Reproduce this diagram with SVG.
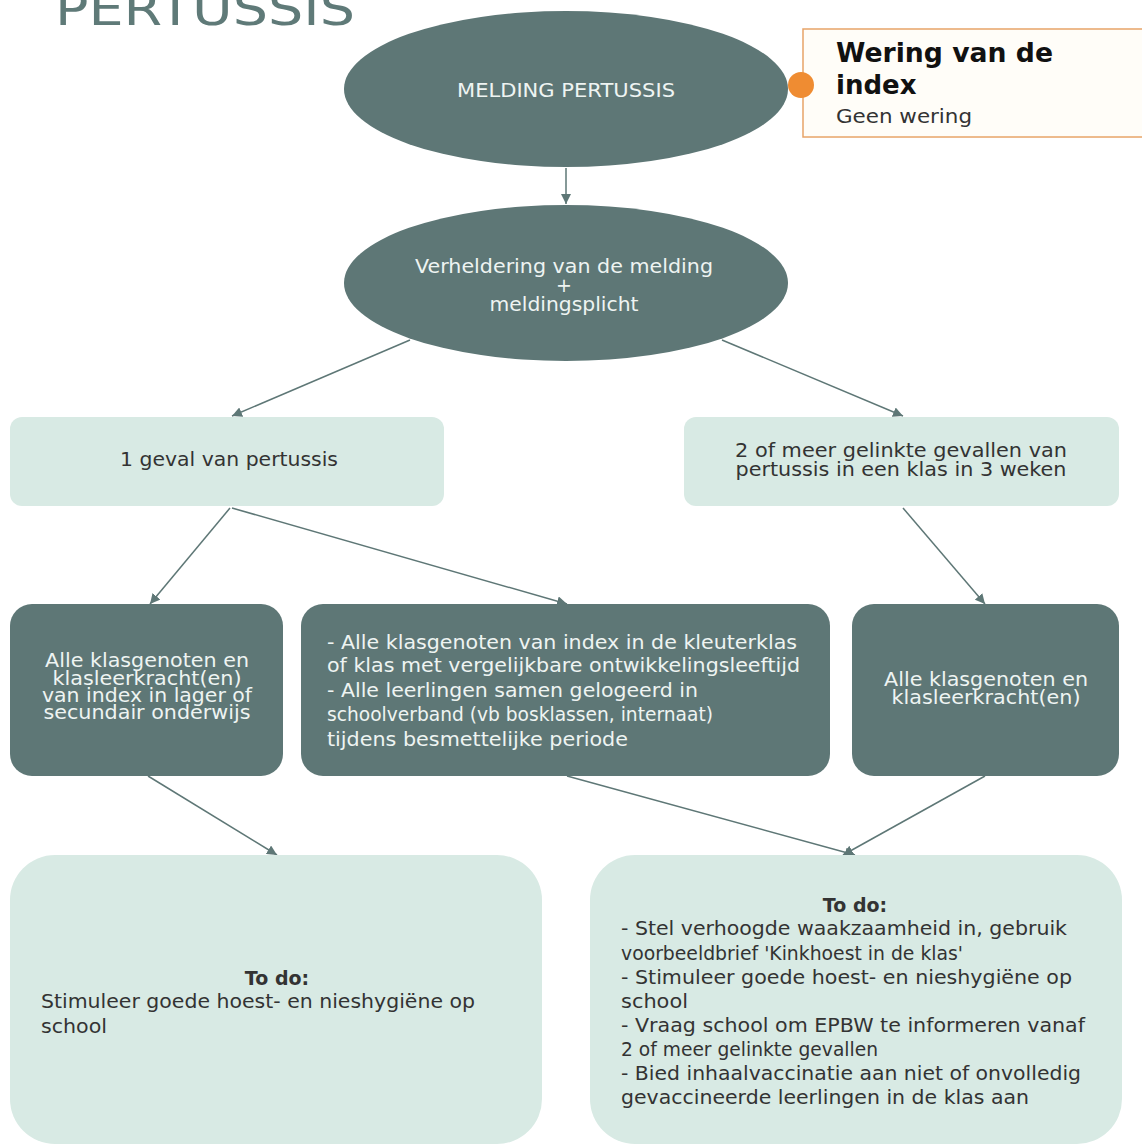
<svg xmlns="http://www.w3.org/2000/svg" width="1142" height="1144" viewBox="0 0 1142 1144">
<defs>
<style>
.dark{fill:#5e7776;}
.light{fill:#d8eae4;}
.conn{stroke:#5e7776;stroke-width:1.5;fill:none;marker-end:url(#ah);}
.wt{font-family:"DejaVu Sans",Verdana,sans-serif;fill:#eef4f2;font-size:19px;}
.dt{font-family:"DejaVu Sans",Verdana,sans-serif;fill:#333;font-size:19px;}
.vt{font-family:"DejaVu Sans",Verdana,sans-serif;fill:#333;font-size:20px;}
.vb{font-family:"DejaVu Sans",Verdana,sans-serif;fill:#333;font-size:19px;font-weight:bold;}
.el{font-family:"DejaVu Sans",Verdana,sans-serif;fill:#eef4f2;font-size:19px;}
</style>
<marker id="ah" viewBox="0 0 10 10" refX="10" refY="5" markerWidth="10" markerHeight="10" markerUnits="userSpaceOnUse" orient="auto">
<path d="M0,0 L10,5 L0,10 Z" fill="#5e7776"/>
</marker>
</defs>
<rect width="1142" height="1144" fill="#ffffff"/>
<text x="55" y="25" font-family="DejaVu Sans,sans-serif" font-size="46" fill="#5f7a78" textLength="300" lengthAdjust="spacingAndGlyphs">PERTUSSIS</text>

<g id="connectors">
<line class="conn" x1="566" y1="168" x2="566" y2="204"/>
<line class="conn" x1="410" y1="340" x2="232" y2="416"/>
<line class="conn" x1="722" y1="340" x2="903" y2="416"/>
<line class="conn" x1="230" y1="508" x2="150" y2="604"/>
<line class="conn" x1="232" y1="508" x2="567" y2="604"/>
<line class="conn" x1="903" y1="508" x2="985" y2="604"/>
<line class="conn" x1="148" y1="776" x2="277" y2="855"/>
<line class="conn" x1="567" y1="776" x2="855" y2="855"/>
<line class="conn" x1="985" y1="776" x2="843" y2="855"/>
</g>

<g id="melding">
<ellipse class="dark" cx="566" cy="89" rx="222" ry="78"/>
<text class="el" x="566" y="97" text-anchor="middle" font-size="18" textLength="218" lengthAdjust="spacingAndGlyphs">MELDING PERTUSSIS</text>
</g>

<g id="wering">
<rect x="803" y="29" width="345" height="108" fill="#fffdf8" stroke="#e8a468" stroke-width="1.5"/>
<circle cx="801" cy="85" r="13" fill="#ef8c32"/>
<text x="836" y="62" font-family="DejaVu Sans,sans-serif" font-size="26" font-weight="bold" fill="#111" textLength="217" lengthAdjust="spacingAndGlyphs">Wering van de</text>
<text x="836" y="94" font-family="DejaVu Sans,sans-serif" font-size="26" font-weight="bold" fill="#111">index</text>
<text x="836" y="123" font-family="DejaVu Sans,sans-serif" font-size="20" fill="#333" textLength="136" lengthAdjust="spacingAndGlyphs">Geen wering</text>
</g>

<g id="verheldering">
<ellipse class="dark" cx="566" cy="283" rx="222" ry="78"/>
<text class="el" x="564" y="273" text-anchor="middle" textLength="298" lengthAdjust="spacingAndGlyphs">Verheldering van de melding</text>
<text class="el" x="564" y="292" text-anchor="middle">+</text>
<text class="el" x="564" y="311" text-anchor="middle" textLength="149" lengthAdjust="spacingAndGlyphs">meldingsplicht</text>
</g>

<g id="geval1">
<rect class="light" x="10" y="417" width="434" height="89" rx="12"/>
<text class="dt" x="229" y="466" text-anchor="middle" textLength="218" lengthAdjust="spacingAndGlyphs">1 geval van pertussis</text>
</g>

<g id="geval2">
<rect class="light" x="684" y="417" width="435" height="89" rx="12"/>
<text class="dt" x="901" y="457" text-anchor="middle" textLength="332" lengthAdjust="spacingAndGlyphs">2 of meer gelinkte gevallen  van</text>
<text class="dt" x="901" y="476" text-anchor="middle" textLength="331" lengthAdjust="spacingAndGlyphs">pertussis in een klas in 3 weken</text>
</g>

<g id="klas-lager">
<rect class="dark" x="10" y="604" width="273" height="172" rx="22"/>
<text class="wt" x="147" y="667" text-anchor="middle" textLength="204" lengthAdjust="spacingAndGlyphs">Alle klasgenoten en</text>
<text class="wt" x="147" y="685" text-anchor="middle" textLength="189" lengthAdjust="spacingAndGlyphs">klasleerkracht(en)</text>
<text class="wt" x="147" y="702" text-anchor="middle" textLength="210" lengthAdjust="spacingAndGlyphs">van index in lager of</text>
<text class="wt" x="147" y="719" text-anchor="middle" textLength="207" lengthAdjust="spacingAndGlyphs">secundair onderwijs</text>
</g>

<g id="kleuter">
<rect class="dark" x="301" y="604" width="529" height="172" rx="22"/>
<text class="wt" x="327" y="649" textLength="470" lengthAdjust="spacingAndGlyphs">- Alle klasgenoten van index in de kleuterklas</text>
<text class="wt" x="327" y="672" textLength="473" lengthAdjust="spacingAndGlyphs">of klas met vergelijkbare ontwikkelingsleeftijd</text>
<text class="wt" x="327" y="697" textLength="371" lengthAdjust="spacingAndGlyphs">- Alle leerlingen samen gelogeerd in</text>
<text class="wt" x="327" y="721" textLength="386" lengthAdjust="spacingAndGlyphs">schoolverband (vb bosklassen, internaat)</text>
<text class="wt" x="327" y="746" textLength="301" lengthAdjust="spacingAndGlyphs">tijdens besmettelijke periode</text>
</g>

<g id="klas-alle">
<rect class="dark" x="852" y="604" width="267" height="172" rx="22"/>
<text class="wt" x="986" y="686" text-anchor="middle" textLength="204" lengthAdjust="spacingAndGlyphs">Alle klasgenoten en</text>
<text class="wt" x="986" y="704" text-anchor="middle" textLength="189" lengthAdjust="spacingAndGlyphs">klasleerkracht(en)</text>
</g>

<g id="todo1">
<rect class="light" x="10" y="855" width="532" height="289" rx="45"/>
<text class="vb" x="277" y="985" text-anchor="middle">To do:</text>
<text class="vt" x="41" y="1008" textLength="434" lengthAdjust="spacingAndGlyphs">Stimuleer goede hoest- en nieshygiëne op</text>
<text class="vt" x="41" y="1033" textLength="66" lengthAdjust="spacingAndGlyphs">school</text>
</g>

<g id="todo2">
<rect class="light" x="590" y="855" width="532" height="289" rx="45"/>
<text class="vb" x="855" y="912" text-anchor="middle">To do:</text>
<text class="vt" x="621" y="935" textLength="446" lengthAdjust="spacingAndGlyphs">-  Stel verhoogde waakzaamheid in, gebruik</text>
<text class="vt" x="621" y="960" textLength="342" lengthAdjust="spacingAndGlyphs">voorbeeldbrief 'Kinkhoest in de klas'</text>
<text class="vt" x="621" y="984" textLength="451" lengthAdjust="spacingAndGlyphs">-  Stimuleer goede hoest- en nieshygiëne op</text>
<text class="vt" x="621" y="1008" textLength="67" lengthAdjust="spacingAndGlyphs">school</text>
<text class="vt" x="621" y="1032" textLength="464" lengthAdjust="spacingAndGlyphs">-  Vraag school om EPBW te informeren vanaf</text>
<text class="vt" x="621" y="1056" textLength="257" lengthAdjust="spacingAndGlyphs">2 of meer gelinkte gevallen</text>
<text class="vt" x="621" y="1080" textLength="460" lengthAdjust="spacingAndGlyphs">-  Bied inhaalvaccinatie aan niet of onvolledig</text>
<text class="vt" x="621" y="1104" textLength="408" lengthAdjust="spacingAndGlyphs">gevaccineerde leerlingen in de klas aan</text>
</g>
</svg>
